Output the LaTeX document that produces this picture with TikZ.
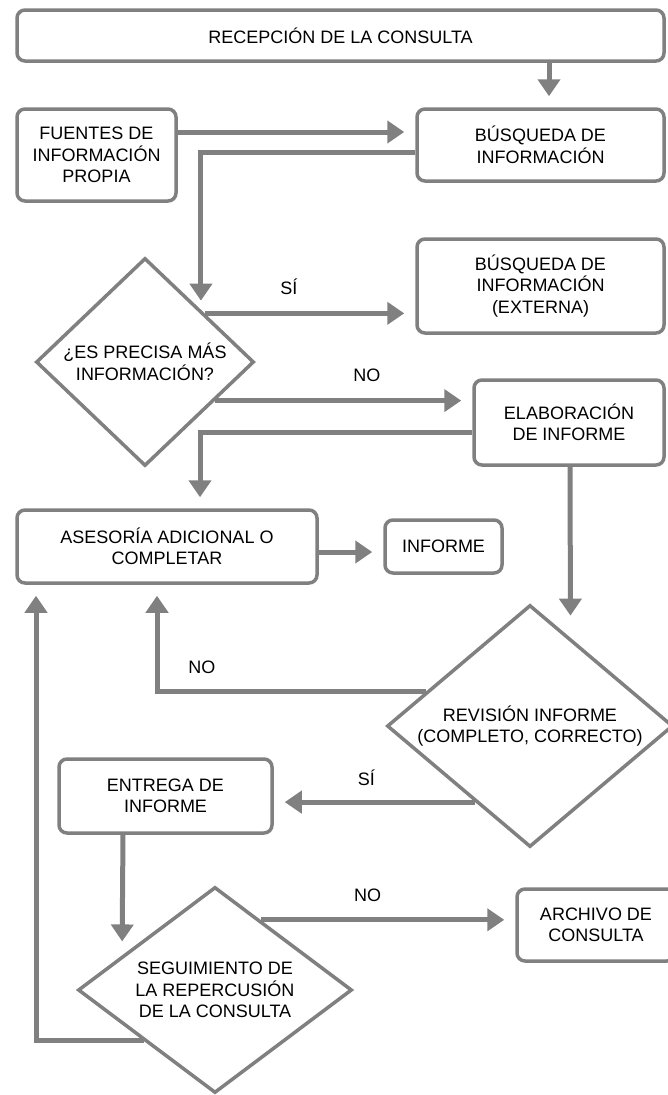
\documentclass[tikz,border=0pt]{standalone}
\usepackage{fontspec}
\setmainfont{Liberation Sans}
\usetikzlibrary{arrows.meta,shapes.geometric,calc}
\definecolor{flowgray}{RGB}{128,128,128}
\begin{document}
\begin{tikzpicture}[x=1pt,y=-1pt,
  every node/.style={font=\fontsize{18}{21.5}\selectfont},
  box/.style={draw=flowgray, line width=3.5pt, rounded corners=8pt, fill=white,
              align=center, inner sep=0pt},
  decision/.style={draw=flowgray, line width=3.5pt, diamond, fill=white,
              align=center, inner sep=0pt},
  arr/.style={draw=flowgray, line width=5pt,
              -{Triangle[width=22pt,length=17pt]}, shorten >=11pt},
  lbl/.style={inner sep=0pt}]
\useasboundingbox (0,0) rectangle (667,1095);

% process boxes
\node[box, minimum width=647pt, minimum height=51pt] (recep) at (340.5,35.5) {RECEPCIÓN DE LA CONSULTA};
\node[box, minimum width=159pt, minimum height=92pt] (fuentes) at (96.5,155) {FUENTES DE\\INFORMACIÓN\\PROPIA};
\node[box, minimum width=247pt, minimum height=72pt] (busq) at (540.5,145) {BÚSQUEDA DE\\INFORMACIÓN};
\node[box, minimum width=247pt, minimum height=94pt] (busqext) at (540.5,286) {BÚSQUEDA DE\\INFORMACIÓN\\(EXTERNA)};
\node[box, minimum width=190pt, minimum height=85pt] (elab) at (569,422.5) {ELABORACIÓN\\DE INFORME};
\node[box, minimum width=300pt, minimum height=73pt] (asesoria) at (167,546.5) {ASESORÍA ADICIONAL O\\COMPLETAR};
\node[box, minimum width=117pt, minimum height=53pt] (informe) at (443.5,546.5) {INFORME};
\node[box, minimum width=213pt, minimum height=74pt] (entrega) at (165.5,796) {ENTREGA DE\\INFORME};
\node[box, minimum width=158pt, minimum height=72pt] (archivo) at (596,925) {ARCHIVO DE\\CONSULTA};

% decisions
\node[decision, shape aspect=1.05, minimum width=218pt, minimum height=208pt] (d1) at (145,362) {¿ES PRECISA MÁS\\INFORMACIÓN?};
\node[decision, shape aspect=1.18, minimum width=286pt, minimum height=242pt] (d2) at (530,726) {REVISIÓN INFORME\\(COMPLETO, CORRECTO)};
\node[decision, shape aspect=1.33, minimum width=274pt, minimum height=206pt] (d3) at (215,990) {SEGUIMIENTO DE\\LA REPERCUSIÓN\\DE LA CONSULTA};

% connectors
\draw[arr] ([xshift=8.5pt]busq.north |- recep.south) -- ([xshift=8.5pt]busq.north);
\draw[arr] ([yshift=23pt]fuentes.east) -- ([yshift=23pt]fuentes.east -| busq.west);
\draw[arr, shorten >=9pt] ([yshift=-7pt]busq.west) -| ($(d1.north)!0.505!(d1.east)$);

\coordinate (d1yes) at ($(d1.east)!0.46!(d1.north)$);
\draw[arr] (d1yes) -- node[lbl, pos=0.4, yshift=27pt] {SÍ} (d1yes -| busqext.west);

\coordinate (d1no) at ($(d1.east)!0.365!(d1.south)$);
\draw[arr] (d1no) -- node[lbl, pos=0.59, yshift=25pt] {NO} (d1no -| elab.west);

\draw[arr] ([yshift=-9.5pt]elab.west) -| ([xshift=33pt]asesoria.north);
\draw[arr] ([yshift=-5.5pt]asesoria.east) -- ([yshift=-5.5pt]asesoria.east -| informe.west);
\draw[arr, shorten >=22pt] ([xshift=1pt]elab.south) -- ($(d2.north)!0.28!(d2.east)$);

\coordinate (d2no) at ($(d2.west)!0.28!(d2.north)$);
\draw[arr] (d2no) -| node[lbl, pos=0.4167, yshift=24pt] {NO} ([xshift=-10pt]asesoria.south);

\coordinate (d2yes) at ($(d2.west)!0.62!(d2.south)$);
\draw[arr] (d2yes) -- node[lbl, pos=0.54, yshift=24pt] {SÍ} (d2yes -| entrega.east);

\draw[arr, shorten >=14pt] ([xshift=-42.5pt]entrega.south) -- ($(d3.north)!0.67!(d3.west)$);

\coordinate (d3no) at ($(d3.east)!0.67!(d3.north)$);
\draw[arr] (d3no) -- node[lbl, pos=0.42, yshift=25pt] {NO} (d3no -| archivo.west);

\coordinate (d3yes) at ($(d3.west)!0.485!(d3.south)$);
\draw[arr] (d3yes) -| ([xshift=-131pt]asesoria.south);
\end{tikzpicture}
\end{document}
